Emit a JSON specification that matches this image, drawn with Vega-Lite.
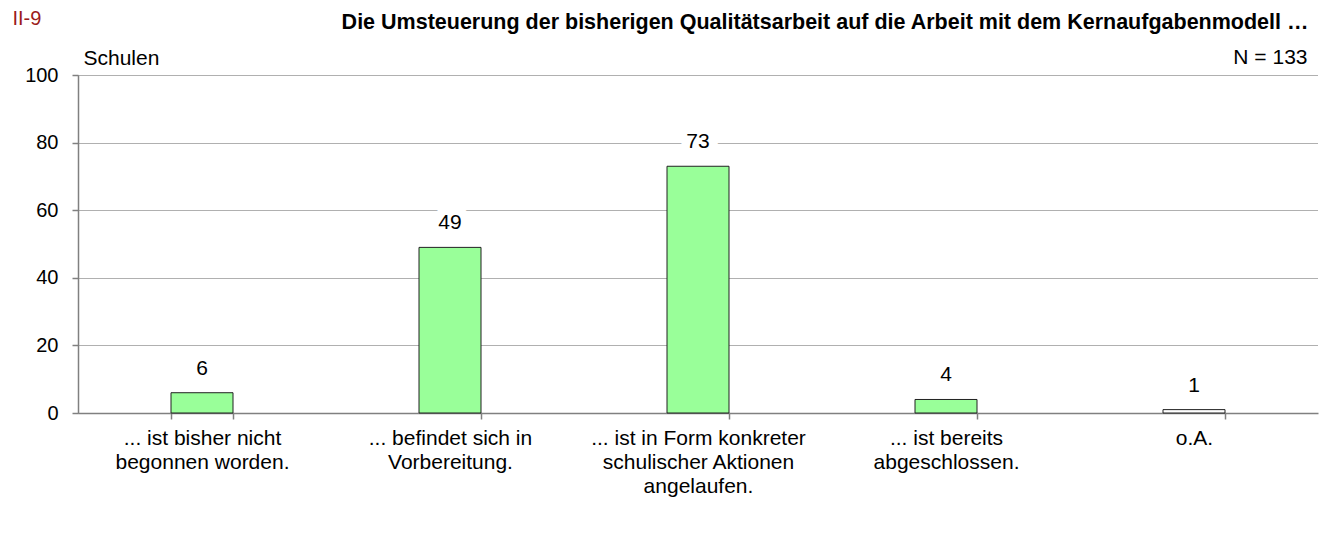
{
  "$schema": "https://vega.github.io/schema/vega-lite/v6.json",
  "width": 1240,
  "height": 338,
  "autosize": {"type": "none"},
  "padding": {"left": 78, "top": 75, "right": 9, "bottom": 122},
  "background": "white",
  "config": {"font": "Liberation Sans", "view": {"stroke": null}},
  "data": {
    "values": [
      {"kategorie": "... ist bisher nicht\nbegonnen worden.", "schulen": 6},
      {"kategorie": "... befindet sich in\nVorbereitung.", "schulen": 49},
      {"kategorie": "... ist in Form konkreter\nschulischer Aktionen\nangelaufen.", "schulen": 73},
      {"kategorie": "... ist bereits\nabgeschlossen.", "schulen": 4},
      {"kategorie": "o.A.", "schulen": 1}
    ]
  },
  "layer": [
    {
      "mark": {"type": "bar", "stroke": "#202020", "strokeWidth": 1},
      "encoding": {
        "x": {
          "field": "kategorie",
          "type": "nominal",
          "sort": null,
          "scale": {"paddingInner": 0.75, "paddingOuter": 0.375},
          "axis": {
            "orient": "bottom",
            "labelAngle": 0,
            "labelExpr": "datum.value ? split(datum.value, '\\n') : ''",
            "labelFontSize": 21,
            "labelColor": "black",
            "labelLineHeight": 24,
            "labelBaseline": "top",
            "labelPadding": 8,
            "labelLimit": 400,
            "tickBand": "extent",
            "tickSize": 6,
            "tickColor": "#808080",
            "tickWidth": 1.5,
            "domainColor": "#808080",
            "domainWidth": 1.5,
            "title": "N = 133",
            "titleFontSize": 21,
            "titleFontWeight": "normal",
            "titleColor": "black",
            "titleAlign": "right",
            "titleBaseline": "middle",
            "titleAnchor": null,
            "titleX": 1229,
            "titleY": -356
          }
        },
        "y": {
          "field": "schulen",
          "type": "quantitative",
          "scale": {"domain": [0, 100], "nice": false},
          "axis": {
            "orient": "left",
            "values": [0, 20, 40, 60, 80, 100],
            "labelFontSize": 20,
            "labelColor": "black",
            "labelPadding": 14,
            "tickSize": 6,
            "tickColor": "#808080",
            "tickWidth": 1.5,
            "domainColor": "#808080",
            "domainWidth": 1.5,
            "grid": true,
            "gridColor": "#606060",
            "gridDash": [1, 1],
            "gridWidth": 1,
            "title": "Schulen",
            "titleAngle": 0,
            "titleFontSize": 21,
            "titleFontWeight": "normal",
            "titleColor": "black",
            "titleAlign": "left",
            "titleBaseline": "middle",
            "titleAnchor": null,
            "titleX": 5,
            "titleY": -17
          }
        },
        "fill": {
          "condition": {"test": "datum.kategorie == 'o.A.'", "value": "white"},
          "value": "#99FF99"
        }
      }
    },
    {
      "mark": {"type": "text", "dy": -24, "fontSize": 21, "fill": "white", "stroke": "white", "strokeWidth": 18, "strokeJoin": "round"},
      "encoding": {
        "x": {
          "field": "kategorie",
          "type": "nominal",
          "sort": null,
          "scale": {"paddingInner": 0.75, "paddingOuter": 0.375},
          "axis": null
        },
        "y": {
          "field": "schulen",
          "type": "quantitative",
          "scale": {"domain": [0, 100], "nice": false},
          "axis": {
            "orient": "right",
            "labels": false,
            "ticks": false,
            "domain": false,
            "grid": false,
            "title": "II-9",
            "titleAngle": 0,
            "titleFontSize": 20,
            "titleFontWeight": "normal",
            "titleColor": "#9B1B1B",
            "titleAlign": "left",
            "titleBaseline": "middle",
            "titleAnchor": null,
            "titleX": -1306,
            "titleY": -57
          }
        },
        "text": {"field": "schulen", "type": "quantitative"}
      }
    },
    {
      "mark": {"type": "text", "dy": -24, "fontSize": 21, "fill": "black"},
      "encoding": {
        "x": {
          "field": "kategorie",
          "type": "nominal",
          "sort": null,
          "scale": {"paddingInner": 0.75, "paddingOuter": 0.375},
          "axis": {
            "orient": "top",
            "labels": false,
            "ticks": false,
            "domain": false,
            "grid": false,
            "title": "Die Umsteuerung der bisherigen Qualitätsarbeit auf die Arbeit mit dem  Kernaufgabenmodell …",
            "titleFontSize": 21.5,
            "titleFontWeight": "bold",
            "titleColor": "black",
            "titleAlign": "right",
            "titleBaseline": "middle",
            "titleAnchor": null,
            "titleX": 1230,
            "titleY": -53
          }
        },
        "y": {
          "field": "schulen",
          "type": "quantitative",
          "scale": {"domain": [0, 100], "nice": false},
          "axis": null
        },
        "text": {"field": "schulen", "type": "quantitative"}
      }
    }
  ],
  "resolve": {"scale": {"y": "independent", "x": "independent"}}
}
